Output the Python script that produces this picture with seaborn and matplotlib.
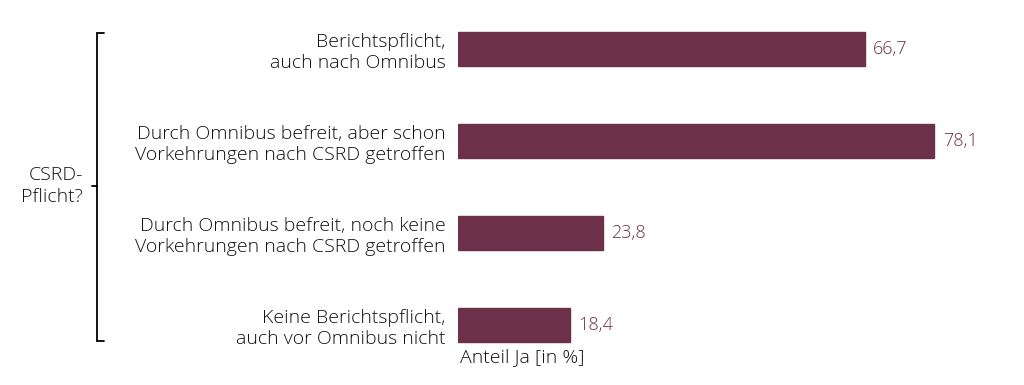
import matplotlib
matplotlib.use("Agg")
import matplotlib.pyplot as plt
import seaborn as sns
import pandas as pd
from matplotlib.lines import Line2D

categories = [
    "Berichtspflicht,\nauch nach Omnibus",
    "Durch Omnibus befreit, aber schon\nVorkehrungen nach CSRD getroffen",
    "Durch Omnibus befreit, noch keine\nVorkehrungen nach CSRD getroffen",
    "Keine Berichtspflicht,\nauch vor Omnibus nicht",
]
values = [66.7, 78.1, 23.8, 18.4]
value_labels = ["66,7", "78,1", "23,8", "18,4"]
group_label = "CSRD-\nPflicht?"
x_label = "Anteil Ja [in %]"

color = "#6C3048"
txt = "#111111"

sns.set_theme(style="white")
plt.rcParams['font.family'] = ['Open Sans', 'DejaVu Sans']
plt.rcParams['font.weight'] = 'light'

df = pd.DataFrame({"cat": categories, "val": values})

fig = plt.figure(figsize=(10.24, 3.85), dpi=100)
ax = fig.add_axes([458/1024, 1 - 371/385, (1007-458)/1024, (371-3)/385])

sns.barplot(data=df, x="val", y="cat", orient="h", color=color, width=0.36,
            saturation=1, ax=ax, edgecolor=color)

ax.set_xlim(0, 90)
ax.set_ylim(3.5, -0.5)
for s in ax.spines.values():
    s.set_visible(False)
ax.set_xticks([])
ax.set_xlabel("")
ax.set_ylabel("")
ax.tick_params(axis="y", length=0, pad=9, labelsize=14, labelcolor=txt)
for lbl in ax.get_yticklabels():
    lbl.set_horizontalalignment("right")
    lbl.set_multialignment("right")
    lbl.set_fontweight("light")
    lbl.set_linespacing(1.2)

for i, (v, t) in enumerate(zip(values, value_labels)):
    ax.annotate(t, xy=(v, i), xytext=(6, 0), textcoords="offset points",
                va="center", ha="left", fontsize=13, color=color, fontweight="light")

fig.text(460/1024, 1 - 357/385, x_label, ha="left", va="center",
         fontsize=14, color=txt, fontweight="light")

# bracket
def fx(px):
    return px / 1024
def fy(py):
    return 1 - py / 385

lw = 1.3
fig.add_artist(Line2D([fx(97), fx(97)], [fy(33), fy(341)], transform=fig.transFigure, color="black", lw=lw))
fig.add_artist(Line2D([fx(97), fx(104)], [fy(33), fy(33)], transform=fig.transFigure, color="black", lw=lw))
fig.add_artist(Line2D([fx(97), fx(104)], [fy(341), fy(341)], transform=fig.transFigure, color="black", lw=lw))
fig.add_artist(Line2D([fx(92), fx(97)], [fy(186), fy(186)], transform=fig.transFigure, color="black", lw=lw))
fig.text(fx(83), fy(186), group_label, ha="right", va="center", fontsize=14,
         color=txt, multialignment="right", linespacing=1.3, fontweight="light")

fig.savefig("out.png", dpi=100)
